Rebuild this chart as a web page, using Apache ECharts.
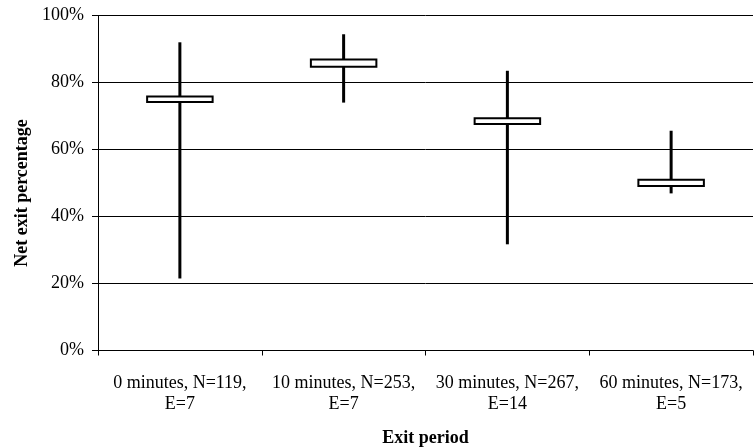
<!DOCTYPE html>
<html>
<head>
<meta charset="utf-8">
<script src="https://cdn.jsdelivr.net/npm/echarts@6/dist/echarts.min.js"></script>
<style>
html,body{margin:0;padding:0;background:#fff;}
#c{width:754px;height:448px;}
</style>
</head>
<body>
<div id="c"></div>
<script>
const categories = ['0 minutes, N=119,\nE=7', '10 minutes, N=253,\nE=7', '30 minutes, N=267,\nE=14', '60 minutes, N=173,\nE=5'];
const highValues = [92.0, 94.4, 83.5, 65.6];
const lowValues = [21.5, 74.0, 31.7, 46.9];
const boxTopValues = [75.8, 86.9, 69.3, 51.0];
const boxBottomValues = [74.2, 84.7, 67.6, 49.1];
const yTicks = [0, 20, 40, 60, 80, 100];

const seriesData = categories.map((c, i) => [i, lowValues[i], highValues[i], boxBottomValues[i], boxTopValues[i]]);

const chart = echarts.init(document.getElementById('c'), null, {renderer: 'canvas'});
const font = 'Liberation Serif, Times New Roman, serif';
chart.setOption({
  animation: false,
  backgroundColor: '#fff',
  grid: {left: 98, right: 1, top: 15.5, bottom: 97.5, containLabel: false, outerBoundsMode: 'none'},
  xAxis: {
    type: 'category',
    data: categories,
    name: 'Exit period',
    nameLocation: 'middle',
    nameGap: 79,
    nameTextStyle: {fontFamily: font, fontSize: 18, fontWeight: 'bold', color: '#000'},
    axisLine: {show: true, lineStyle: {color: '#000', width: 1}},
    axisTick: {show: true, length: 5, lineStyle: {color: '#000'}},
    axisLabel: {fontFamily: font, fontSize: 18, color: '#000', lineHeight: 21, margin: 22, interval: 0}
  },
  yAxis: {
    type: 'value',
    min: yTicks[0],
    max: yTicks[yTicks.length - 1],
    interval: 20,
    name: 'Net exit percentage',
    nameLocation: 'middle',
    nameGap: 66,
    nameTextStyle: {fontFamily: font, fontSize: 18, fontWeight: 'bold', color: '#000', padding: [0, 20, 0, 0]},
    axisLine: {show: true, lineStyle: {color: '#000', width: 1}},
    axisTick: {show: true, length: 6, lineStyle: {color: '#000'}},
    axisLabel: {fontFamily: font, fontSize: 18, color: '#000', margin: 14, formatter: '{value}%'},
    splitLine: {show: true, lineStyle: {color: '#000', width: 1}}
  },
  series: [{
    type: 'custom',
    data: seriesData,
    encode: {x: 0, y: [1, 2, 3, 4]},
    renderItem: function (params, api) {
      const x = api.value(0);
      const pLow = api.coord([x, api.value(1)]);
      const pHigh = api.coord([x, api.value(2)]);
      const pBot = api.coord([x, api.value(3)]);
      const pTop = api.coord([x, api.value(4)]);
      const w = api.size([1, 0])[0] * 0.4;
      return {
        type: 'group',
        children: [
          {type: 'line', shape: {x1: pLow[0], y1: pLow[1], x2: pHigh[0], y2: pHigh[1]}, style: {stroke: '#000', lineWidth: 3}},
          {type: 'rect', shape: {x: pTop[0] - w / 2, y: pTop[1], width: w, height: pBot[1] - pTop[1]}, style: {fill: '#fff', stroke: '#000', lineWidth: 2}}
        ]
      };
    }
  }]
});
</script>
</body>
</html>
